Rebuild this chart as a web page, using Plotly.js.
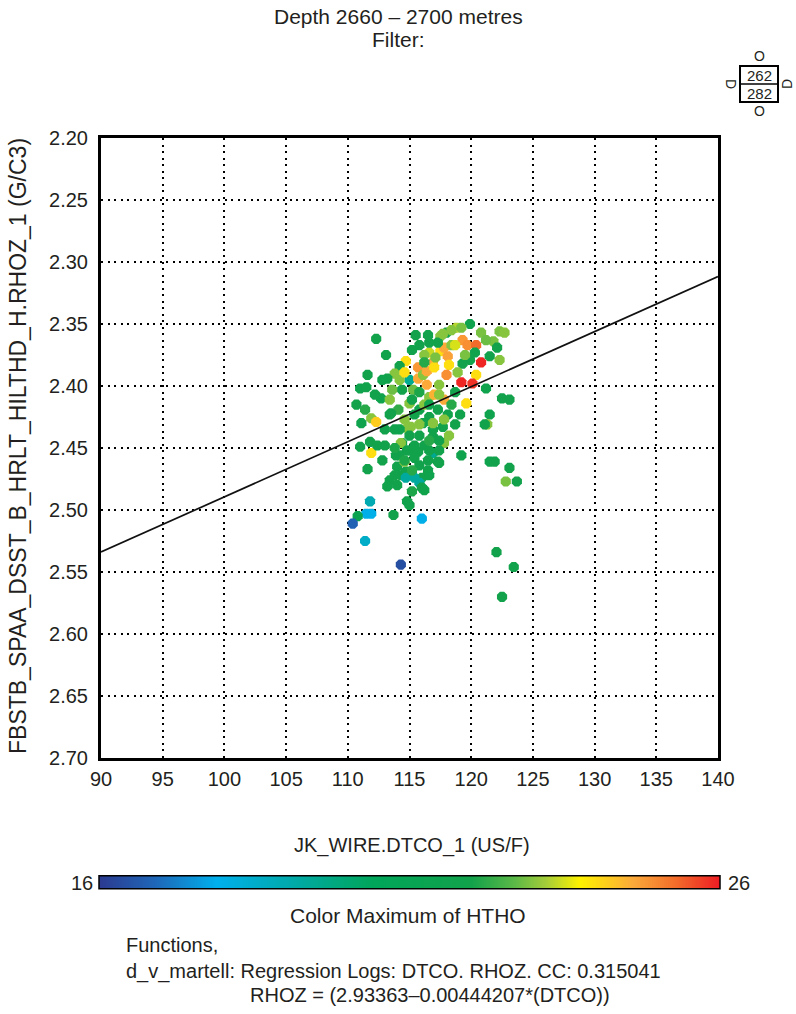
<!DOCTYPE html>
<html>
<head>
<meta charset="utf-8">
<script src="https://cdn.plot.ly/plotly-3.0.1.min.js"></script>
<style>html,body{margin:0;padding:0;background:#fff;}#chart{width:796px;height:1014px;}</style>
</head>
<body>
<div id="chart"></div>
<script>
// DTCO (US/F)
const dtco = [
112.3,113.1,115.5,114.7,114.2,113.8,113.2,111.6,111.0,111.5,110.7,111.9,112.3,111.1,113.4,114.1,115.0,115.7,116.4,115.7,
116.1,116.9,116.6,117.5,117.8,118.1,118.2,118.0,117.5,117.3,116.6,118.0,118.8,119.9,119.3,119.7,120.4,120.8,122.3,121.8,
120.8,119.9,121.5,122.3,120.4,119.2,120.1,121.2,122.5,123.1,119.6,117.8,116.6,115.3,114.4,113.6,112.7,115.0,115.8,116.6,
121.5,121.3,114.8,116.9,116.1,117.7,117.8,116.9,114.4,115.0,113.9,111.9,111.0,111.8,119.2,116.9,116.6,
117.4,121.5,121.9,123.1,122.8,123.7,122.05,123.45,122.5,121.1,116.9,117.3,116.5,116.0,113.5,115.1,114.3,112.8,114.8,111.6,
114.0,114.7,115.4,115.8,113.4,114.0,114.2,115.7,115.4,114.6,114.3,114.7,116.0,113.2,114.8,115.0,111.8,111.5,111.9,110.8,
110.4,113.7,116.0,111.4,114.3,117.7,116.5,119.3,115.8,116.4,117.0,114.2,115.2,116.2,117.3,118.1,118.7,118.2,115.8,116.2,
113.8,113.0,116.2,117.4,118.7,118.4,118.9,117.0,115.4,114.6,117.4,116.5,
118.4,119.2,121.2,122.1,120.3,122.7,119.5,118.7,117.1,116.2,115.2,114.6,115.8,116.6,117.4,118.4,119.1,117.8,115.8,115.0,
114.2,116.6,117.4,115.4,114.6,115.8,116.6,115.2,113.8,116.2,115.2,112.8,112.2,111.4,113.4,113.0,112.4,113.8
];
// RHOZ (G/C3)
const rhoz = [
2.362,2.375,2.359,2.380,2.384,2.390,2.394,2.391,2.402,2.401,2.415,2.426,2.429,2.430,2.423,2.419,2.395,2.394,2.399,2.385,
2.391,2.381,2.373,2.372,2.369,2.376,2.383,2.391,2.360,2.365,2.365,2.357,2.353,2.350,2.363,2.367,2.367,2.357,2.356,2.364,
2.381,2.379,2.376,2.379,2.391,2.397,2.398,2.402,2.410,2.411,2.414,2.411,2.409,2.403,2.403,2.403,2.410,2.414,2.419,2.425,
2.423,2.431,2.434,2.435,2.430,2.433,2.446,2.441,2.446,2.452,2.456,2.454,2.449,2.445,2.456,2.454,2.452,
2.462,2.461,2.461,2.466,2.477,2.477,2.534,2.546,2.570,2.431,2.430,2.461,2.460,2.474,2.422,2.433,2.446,2.460,2.452,2.467,
2.465,2.469,2.474,2.478,2.476,2.480,2.456,2.453,2.458,2.461,2.472,2.474,2.482,2.481,2.493,2.496,2.493,2.503,2.503,2.505,
2.511,2.504,2.507,2.525,2.544,2.358,2.359,2.382,2.367,2.388,2.385,2.395,2.411,2.415,2.419,2.423,2.431,2.440,2.440,2.448,
2.435,2.448,2.375,2.399,2.405,2.367,2.389,2.407,2.423,2.427,2.452,2.468,
2.355,2.353,2.363,2.369,2.373,2.357,2.375,2.367,2.377,2.381,2.371,2.389,2.405,2.415,2.407,2.415,2.423,2.427,2.431,2.440,
2.435,2.444,2.444,2.448,2.460,2.464,2.472,2.468,2.472,2.484,2.485,2.395,2.407,2.419,2.411,2.435,2.448,2.450
];
// Color: maximum of HTHO
const htho = [
22,22,22,24,22,23,22,22,21.8,22,22,23,24.2,21.8,22,22.3,19.5,24.6,24.6,24.8,
23,24.6,23.4,24,24.6,24.7,24,24.9,23,22,22,22,23.3,21.8,24.8,24.9,25.3,22.9,22.9,22.9,
25.9,22,22,23,24,25.9,25.8,21.8,22,22,24,24.6,23,22.8,22,22.8,21.8,23,22,22,
21.8,23,23,22,22,22,23,22,22,22,22,24,22,22,21.8,19.5,22,
22,21.8,22,22,22.9,22,22,22,22,22,23,22,22,22,22,23,23,22,22,22,
22,22,19.3,19.3,22,22,22,22,22,23,22,19.3,22,22,22,22,19,18,18,21.5,
16.8,22,18,18.6,16.4,23,22,22,22,24.6,24,23,22,23,22,22,22,23,22,22,
22,22,23,23,22,23,23,24.5,22,23,22,22,
23,22.9,22.8,22,21.8,23,22.9,23.5,22.9,22.2,21.9,24,22.1,21.8,23,22.2,21.9,23,23,22,
21.8,22.2,22,21.9,22.1,22,21.8,22.2,22,21.9,22.1,21.8,22,22.2,23,22,21.9,22.1
];
const cMin = 16, cMax = 26;
// Regression: RHOZ = (2.93363 - 0.00444207*(DTCO))
const regIntercept = 2.93363, regSlope = -0.00444207;
const regX = [90, 140];
const regY = regX.map(v => regIntercept + regSlope * v);

const xTicks = [90,95,100,105,110,115,120,125,130,135,140];
const yTicks = [2.20,2.25,2.30,2.35,2.40,2.45,2.50,2.55,2.60,2.65,2.70];

const FONT = '"Liberation Sans", Arial, Helvetica, sans-serif';
const TXT = '#231f20';

const cscale = [
  [0,'#2b3a8f'],[0.09,'#1f66b8'],[0.19,'#00b0ec'],[0.3,'#00aab0'],[0.44,'#00a65a'],
  [0.6,'#12a24b'],[0.67,'#5cb947'],[0.72,'#a5cd39'],[0.775,'#fff200'],[0.86,'#fbaa3a'],
  [0.93,'#f36b2a'],[1,'#ed1c24']
];

const traces = [
  {
    type:'scatter', mode:'markers', x:dtco, y:rhoz, xaxis:'x', yaxis:'y',
    hoverinfo:'skip',
    marker:{symbol:'octagon', size:11, color:htho, cmin:cMin, cmax:cMax, colorscale:cscale,
      line:{width:0},
      showscale:true,
      colorbar:{orientation:'h', x:0.5008, xanchor:'center', y:-0.2016, yanchor:'middle',
        len:621, lenmode:'pixels', thickness:13, thicknessmode:'pixels',
        outlinewidth:1.5, outlinecolor:'#000', xpad:0, ypad:0,
        showticklabels:false, ticks:''}
    }
  },
  {
    type:'scatter', mode:'lines', x:regX, y:regY, hoverinfo:'skip',
    line:{color:'#111', width:1.7}
  }
];

const axisCommon = {
  showgrid:true, gridcolor:'#000', gridwidth:2, griddash:'2px,4.5px',
  showline:true, linecolor:'#000', linewidth:3, mirror:true,
  ticks:'', zeroline:false, tickfont:{family:FONT, size:20, color:TXT}
};

const ann = [];
function addText(text, px, py, opts){
  ann.push(Object.assign({text:text, xref:'paper', yref:'paper',
    x:(px-101)/617, y:(758-py)/620, showarrow:false,
    font:{family:FONT, size:20, color:TXT}, xanchor:'center', yanchor:'middle'}, opts||{}));
}
addText('Depth 2660 \u2013 2700 metres', 398, 16, {font:{family:FONT, size:21, color:TXT}});
addText('Filter:', 398, 39, {font:{family:FONT, size:21, color:TXT}});
addText('JK_WIRE.DTCO_1 (US/F)', 412, 845);
addText('FBSTB_SPAA_DSST_B_HRLT_HILTHD_H.RHOZ_1 (G/C3)', 18, 446, {textangle:-90, font:{family:FONT, size:23, color:TXT}});
addText('16', 82, 883);
addText('26', 739, 883);
addText('Color Maximum of HTHO', 408, 915, {font:{family:FONT, size:21, color:TXT}});
addText('Functions,', 124, 945, {xanchor:'left'});
addText('d_v_martell: Regression Logs: DTCO. RHOZ. CC: 0.315041', 124, 971, {xanchor:'left'});
addText('RHOZ = (2.93363\u20130.00444207*(DTCO))', 248, 995, {xanchor:'left'});
// top-right symbol
addText('262', 759, 75, {font:{family:FONT, size:15, color:TXT}});
addText('282', 759, 93, {font:{family:FONT, size:15, color:TXT}});
addText('O', 759, 56, {font:{family:FONT, size:14, color:TXT}});
addText('O', 759, 111, {font:{family:FONT, size:14, color:TXT}});
addText('D', 731, 84, {textangle:90, font:{family:FONT, size:14, color:TXT}});
addText('D', 787, 84, {textangle:-90, font:{family:FONT, size:14, color:TXT}});

const px2x = p => (p-101)/617, py2y = p => (758-p)/620;
const shapes = [
  {type:'rect', xref:'paper', yref:'paper', x0:px2x(740), x1:px2x(778), y0:py2y(102), y1:py2y(66), line:{color:'#000', width:2}},
  {type:'line', xref:'paper', yref:'paper', x0:px2x(740), x1:px2x(778), y0:py2y(84), y1:py2y(84), line:{color:'#000', width:1.5}}
];

const layout = {
  width:796, height:1014,
  margin:{l:101, r:78, t:138, b:256, pad:0},
  paper_bgcolor:'#fff', plot_bgcolor:'#fff',
  showlegend:false,
  font:{family:FONT, color:TXT},
  xaxis:Object.assign({}, axisCommon, {range:[90,140], tickvals:xTicks, ticktext:xTicks.map(String), ticklabelstandoff:1}),
  xaxis2:Object.assign({}, axisCommon, {range:[90,140], tickvals:xTicks, ticktext:xTicks.map(String), overlaying:'x', side:'top', anchor:'y', showgrid:false, showline:false, ticklabelstandoff:6}),
  yaxis:Object.assign({}, axisCommon, {range:[2.70,2.20], tickvals:yTicks, ticktext:yTicks.map(v=>v.toFixed(2)), ticklabelstandoff:6}),
  yaxis2:Object.assign({}, axisCommon, {range:[2.70,2.20], tickvals:yTicks, ticktext:yTicks.map(v=>v.toFixed(2)), overlaying:'y', side:'right', anchor:'x', showgrid:false, showline:false, ticklabelstandoff:7}),
  annotations:ann,
  shapes:shapes
};

Plotly.newPlot('chart', traces, layout, {staticPlot:true, displayModeBar:false});
</script>
</body>
</html>
